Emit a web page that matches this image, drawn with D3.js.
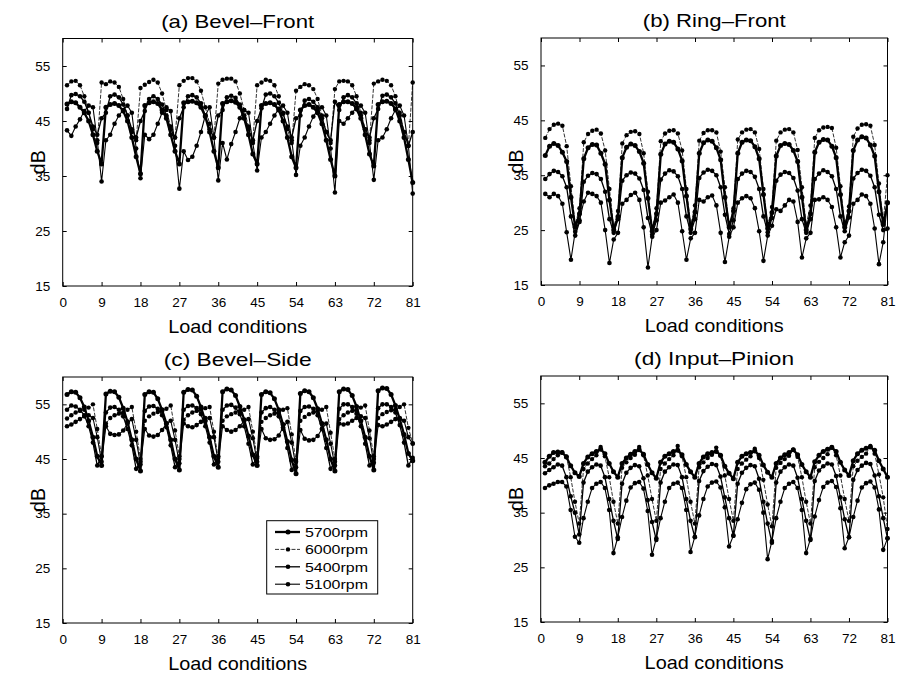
<!DOCTYPE html>
<html>
<head>
<meta charset="utf-8">
<script src="https://cdn.jsdelivr.net/npm/d3@7"></script>
<style>
  body { margin: 0; background: #fff; }
  svg { display: block; }
  text { font-family: "Liberation Sans", Arial, Helvetica, sans-serif; fill: #000; }
</style>
</head>
<body>
<svg id="fig" width="897" height="679"></svg>
<script>
// Load conditions 1..81, tick labels and series names
const loadConditions = d3.range(1, 82);
const xTicks = [0, 9, 18, 27, 36, 45, 54, 63, 72, 81];
const yTicks = [15, 25, 35, 45, 55];
const seriesNames = ["5700rpm", "6000rpm", "5400rpm", "5100rpm"];
const panelTitles = ["(a) Bevel\u2013Front", "(b) Ring\u2013Front", "(c) Bevel\u2013Side", "(d) Input\u2013Pinion"];

// (a) Bevel-Front, dB per load condition
const bevelFront5700 = [
  48.1, 48.5, 48.3, 47.5, 46.5, 45.0, 42.5, 39.5, 37.2,
  47.5, 48.0, 48.2, 47.8, 46.8, 45.0, 42.0, 38.5, 35.4,
  47.8, 48.3, 48.5, 48.2, 47.0, 45.5, 42.5, 39.5, 37.2,
  48.3, 48.5, 48.6, 48.3, 47.5, 45.8, 43.0, 39.5, 36.5,
  48.2, 48.5, 48.7, 48.4, 47.5, 45.5, 42.5, 39.0, 37.2,
  47.8, 48.2, 48.3, 48.0, 47.0, 45.0, 42.0, 38.5, 36.5,
  47.0, 47.8, 48.0, 47.5, 46.5, 44.5, 41.5, 38.0, 35.0,
  48.0, 48.5, 48.5, 48.2, 47.2, 45.5, 42.5, 39.0, 36.8,
  48.0, 48.5, 48.6, 48.2, 47.2, 45.0, 42.0, 38.0, 33.8
];
const bevelFront6000 = [
  51.5, 52.2, 52.3, 51.5, 49.5, 46.5, 43.5, 41.0, 52.0,
  51.7, 52.2, 52.0, 51.2, 49.0, 46.0, 43.0, 41.5, 51.0,
  51.6, 52.1, 52.5, 52.0, 50.0, 47.0, 44.0, 42.0, 51.5,
  52.3, 52.8, 52.8, 52.2, 50.5, 47.5, 44.5, 42.0, 51.8,
  52.5, 52.7, 52.7, 52.2, 50.0, 47.0, 44.0, 41.5, 51.5,
  52.0, 52.5, 52.3, 51.5, 49.5, 46.5, 43.5, 41.0, 50.5,
  51.2, 51.7, 51.5, 50.8, 49.0, 46.0, 43.0, 41.0, 50.8,
  52.2, 52.3, 52.2, 51.5, 49.5, 46.5, 43.5, 41.5, 51.8,
  52.2, 52.5, 52.3, 51.5, 49.5, 46.5, 43.0, 40.5, 52.0
];
const bevelFront5400 = [
  47.2, 49.7, 49.9, 49.5, 48.5, 46.5, 44.0, 42.5, 45.5,
  46.5, 49.5, 49.8, 49.3, 48.0, 46.0, 43.5, 42.0, 45.0,
  46.8, 49.0, 49.5, 49.0, 48.0, 46.0, 43.5, 42.0, 45.5,
  47.5, 49.5, 49.7, 49.3, 48.2, 46.0, 43.5, 42.0, 46.0,
  47.0, 49.3, 49.6, 49.2, 48.0, 46.0, 43.5, 41.5, 45.0,
  47.3, 49.8, 50.0, 49.5, 48.3, 46.3, 44.0, 42.0, 45.5,
  46.0, 48.7, 49.0, 48.5, 47.5, 45.5, 43.0, 41.5, 48.5,
  47.0, 49.3, 49.7, 49.3, 48.2, 46.0, 43.5, 42.0, 45.5,
  47.2, 49.6, 49.8, 49.3, 48.2, 46.0, 43.0, 40.5, 43.0
];
const bevelFront5100 = [
  43.3, 42.3, 44.0, 45.3, 46.8, 47.8, 47.5, 41.5, 34.0,
  41.5, 42.5, 44.5, 46.0, 47.0, 47.8, 46.5, 40.0, 34.6,
  42.5, 41.7, 42.5, 44.5, 46.5, 47.5, 46.8, 40.5, 32.7,
  39.5, 37.9, 38.5, 40.5, 43.0, 46.0, 47.5, 42.0, 34.2,
  41.0, 38.0, 40.8, 43.0, 45.5, 47.0, 46.5, 41.0, 36.0,
  42.0, 43.0, 44.5, 46.0, 47.2, 47.8, 46.5, 41.5, 35.2,
  40.5, 42.0, 44.0, 45.8, 47.0, 47.5, 46.0, 40.0, 32.0,
  45.0, 44.5, 45.5, 46.5, 47.5, 47.8, 46.5, 41.0, 34.3,
  41.5, 42.0, 43.5, 45.5, 47.0, 47.8, 46.0, 40.5, 31.8
];

// (b) Ring-Front
const ringFront5700 = [
  38.6, 40.3, 40.8, 40.4, 39.2, 37.5, 31.0, 25.5, 28.0,
  38.0, 40.0, 40.6, 40.5, 39.0, 37.0, 30.5, 25.0, 27.5,
  38.2, 40.1, 40.7, 40.4, 39.3, 37.2, 30.8, 24.8, 28.0,
  38.8, 40.7, 41.2, 41.0, 39.8, 37.6, 31.2, 25.2, 28.3,
  39.0, 40.9, 41.4, 41.2, 40.0, 37.8, 31.0, 25.5, 28.5,
  39.0, 41.0, 41.4, 41.3, 40.2, 38.0, 31.5, 25.3, 28.2,
  38.5, 40.4, 40.8, 40.6, 39.5, 37.5, 31.0, 25.0, 28.0,
  39.2, 41.0, 41.5, 41.4, 40.3, 38.2, 31.5, 25.5, 28.5,
  39.5, 41.4, 42.0, 41.8, 40.5, 38.5, 32.0, 26.0, 30.0
];
const ringFront6000 = [
  41.8, 43.4, 44.2, 44.4, 44.0, 40.3, 33.0, 26.0, 29.0,
  41.0, 42.5, 43.1, 43.3, 42.6, 39.5, 32.5, 25.5, 28.5,
  40.8, 42.3, 42.9, 43.0, 42.5, 39.0, 32.0, 25.0, 29.0,
  41.2, 42.6, 43.1, 43.2, 42.6, 39.5, 32.5, 25.8, 29.5,
  41.3, 42.7, 43.2, 43.2, 42.8, 39.3, 32.8, 25.5, 29.0,
  41.5, 42.8, 43.3, 43.4, 42.8, 39.8, 32.5, 25.8, 29.2,
  41.3, 42.8, 43.3, 43.4, 42.8, 39.6, 32.8, 26.0, 29.5,
  41.8, 43.2, 43.7, 43.8, 43.6, 40.0, 33.0, 26.0, 29.3,
  42.0, 43.5, 44.2, 44.3, 44.0, 40.5, 33.5, 26.5, 35.0
];
const ringFront5400 = [
  34.3, 35.2, 35.8, 35.6, 34.8, 32.8, 27.5, 24.0, 26.5,
  33.8, 34.9, 35.4, 35.2, 34.3, 32.0, 27.0, 24.5, 27.0,
  34.0, 35.0, 35.5, 35.3, 34.4, 32.3, 27.2, 24.2, 26.8,
  34.2, 35.3, 35.9, 35.7, 34.8, 32.5, 27.5, 24.5, 27.0,
  34.5, 35.5, 36.0, 35.8, 35.0, 32.8, 27.8, 24.3, 26.8,
  34.3, 35.3, 35.8, 35.6, 34.7, 32.5, 27.5, 24.6, 27.2,
  34.0, 35.1, 35.6, 35.4, 34.5, 32.2, 27.0, 24.5, 27.0,
  34.3, 35.3, 35.9, 35.6, 34.8, 32.5, 27.5, 24.8, 27.3,
  34.4, 35.4, 36.0, 35.8, 34.9, 32.8, 27.8, 25.0, 25.3
];
const ringFront5100 = [
  31.6, 31.0, 31.6, 31.2, 29.8, 24.6, 19.6, 24.7, 26.8,
  30.2, 31.8, 31.6, 31.2, 30.0, 25.0, 19.0, 23.3, 24.5,
  29.8, 30.5, 31.4, 31.8, 30.5, 25.5, 18.2, 23.8, 25.0,
  30.0, 30.4, 31.0, 31.5, 30.0, 24.8, 19.6, 23.5, 24.5,
  30.5, 30.2, 31.0, 31.3, 29.5, 24.5, 19.2, 23.8, 25.5,
  30.0, 30.8, 31.2, 30.8, 29.0, 24.8, 19.4, 24.0, 25.8,
  28.8, 28.5, 29.5, 30.5, 30.2, 26.5, 20.0, 23.5, 24.5,
  30.5, 30.6, 31.0, 30.5, 29.2, 25.5, 20.0, 22.8, 24.0,
  29.8, 30.5, 31.5, 31.2, 29.8, 25.3, 18.8, 22.8, 30.0
];

// (c) Bevel-Side
const bevelSide5700 = [
  56.8, 57.3, 57.2, 56.2, 54.5, 52.0, 49.0, 45.5, 43.8,
  56.9, 57.4, 57.3, 56.3, 54.3, 51.8, 48.5, 45.0, 42.8,
  56.8, 57.3, 57.2, 56.0, 54.0, 51.5, 48.5, 45.0, 43.0,
  57.2, 57.7, 57.6, 56.5, 54.5, 52.0, 49.0, 45.5, 43.5,
  57.3, 57.8, 57.6, 56.6, 54.6, 52.2, 49.2, 45.8, 43.8,
  56.8, 57.3, 57.1, 56.0, 54.0, 51.3, 48.2, 44.8, 42.3,
  57.0, 57.5, 57.3, 56.2, 54.2, 51.5, 48.5, 45.0, 42.8,
  57.3, 57.8, 57.7, 56.6, 54.6, 52.0, 49.0, 45.5, 43.0,
  57.5, 58.0, 57.9, 56.8, 54.8, 52.3, 49.5, 46.0, 44.7
];
const bevelSide6000 = [
  52.4, 53.0, 53.5, 53.8, 54.0, 54.4, 55.0, 50.5, 45.5,
  51.5, 52.5, 53.0, 53.3, 53.5, 54.0, 54.5, 50.0, 45.0,
  52.0, 52.8, 53.3, 53.6, 53.8, 54.2, 54.8, 50.2, 45.5,
  52.2, 53.0, 53.5, 53.8, 54.0, 54.3, 54.5, 50.0, 45.2,
  52.0, 52.8, 53.2, 53.5, 53.8, 54.0, 54.5, 50.0, 45.5,
  51.8, 52.5, 53.0, 53.3, 53.5, 54.0, 54.3, 49.5, 44.8,
  52.0, 52.7, 53.2, 53.5, 53.8, 54.0, 54.5, 49.8, 45.0,
  52.3, 53.0, 53.5, 53.8, 54.0, 54.4, 54.8, 50.2, 45.5,
  52.5, 53.2, 53.6, 53.9, 54.1, 54.5, 55.0, 50.7, 47.9
];
const bevelSide5400 = [
  54.0, 54.8, 54.6, 54.0, 53.0, 51.0, 48.0, 43.8, 45.5,
  53.5, 54.4, 54.5, 54.0, 52.8, 50.5, 47.5, 43.2, 44.5,
  53.8, 54.6, 54.7, 54.2, 53.0, 50.8, 47.5, 43.5, 45.0,
  54.0, 54.7, 54.8, 54.3, 53.2, 51.0, 48.0, 44.0, 45.5,
  54.0, 54.8, 54.9, 54.4, 53.2, 51.0, 47.8, 44.0, 45.2,
  53.5, 54.3, 54.5, 54.0, 52.8, 50.5, 47.0, 43.0, 44.5,
  53.8, 54.5, 54.6, 54.2, 53.0, 50.5, 47.0, 43.2, 44.5,
  54.2, 55.0, 55.0, 54.5, 53.3, 51.0, 47.8, 43.8, 45.0,
  54.3, 55.0, 55.0, 54.5, 53.5, 51.2, 48.0, 43.8, 45.2
];
const bevelSide5100 = [
  51.0, 51.3, 51.8, 52.3, 52.8, 53.0, 52.5, 49.0, 44.5,
  51.0, 49.6, 49.4, 49.5, 50.2, 51.5, 52.3, 48.5, 44.0,
  50.5, 49.3, 49.1, 49.4, 50.3, 51.5, 52.0, 48.5, 44.2,
  51.5, 51.0, 50.8, 51.2, 51.8, 52.5, 52.5, 49.0, 44.5,
  51.0, 50.3, 50.0, 50.3, 51.0, 52.0, 52.3, 48.8, 44.5,
  50.5, 48.8, 48.5, 48.6, 49.3, 50.8, 51.8, 48.0, 43.5,
  50.3, 48.7, 48.4, 48.5, 49.2, 50.5, 51.5, 47.8, 43.8,
  51.5, 51.3, 51.5, 52.0, 52.5, 52.8, 52.5, 48.8, 44.3,
  51.2, 51.0, 51.3, 51.8, 52.3, 52.5, 52.0, 49.0, 47.8
];

// (d) Input-Pinion
const inputPinion5700 = [
  44.2, 45.3, 46.0, 46.1, 46.0, 45.2, 43.6, 42.3, 41.6,
  44.0, 45.2, 45.8, 46.2, 46.6, 45.8, 44.0, 42.5, 41.5,
  44.0, 45.0, 45.7, 46.2, 46.5, 45.7, 43.8, 42.3, 41.3,
  44.2, 45.3, 45.8, 46.2, 46.4, 45.6, 43.8, 42.5, 41.5,
  44.0, 45.2, 45.8, 46.0, 46.2, 45.5, 43.5, 42.2, 41.2,
  44.2, 45.3, 45.8, 46.0, 46.3, 45.5, 43.7, 42.4, 41.5,
  44.0, 45.0, 45.6, 46.0, 46.5, 45.6, 43.8, 42.5, 41.5,
  44.3, 45.5, 46.2, 46.6, 46.9, 46.2, 44.2, 42.8, 41.8,
  44.5, 45.8, 46.4, 46.8, 47.0, 46.4, 44.5, 43.0, 41.5
];
const inputPinion6000 = [
  43.5, 44.0, 44.8, 45.5, 46.0, 45.3, 41.5, 37.0, 33.0,
  43.0, 44.0, 44.8, 45.5, 47.0, 45.3, 41.5, 37.0, 33.0,
  43.2, 44.2, 45.0, 45.6, 47.0, 45.5, 41.8, 37.5, 33.5,
  43.0, 44.0, 44.8, 45.5, 47.2, 45.3, 41.5, 37.0, 33.0,
  43.3, 44.2, 45.0, 45.6, 46.9, 45.4, 41.8, 37.5, 33.5,
  43.0, 44.0, 44.7, 45.3, 46.7, 45.0, 41.0, 36.5, 32.5,
  43.2, 44.1, 44.8, 45.4, 46.5, 45.2, 41.5, 37.0, 33.0,
  43.3, 44.3, 45.0, 45.7, 47.0, 45.5, 41.8, 37.5, 33.5,
  43.5, 44.5, 45.2, 45.8, 47.2, 45.8, 42.0, 37.8, 32.0
];
const inputPinion5400 = [
  42.2, 42.8, 43.3, 43.8, 43.6, 41.5, 38.0, 35.0, 31.0,
  40.5, 42.5, 43.3, 43.8, 43.6, 41.5, 37.5, 33.5, 30.2,
  40.3, 42.3, 43.2, 43.7, 43.5, 41.3, 37.3, 33.3, 30.0,
  40.5, 42.5, 43.3, 43.8, 43.7, 41.5, 37.5, 33.5, 30.5,
  40.8, 42.6, 43.4, 43.9, 43.7, 41.6, 37.8, 34.0, 30.8,
  40.3, 42.3, 43.2, 43.7, 43.5, 41.2, 37.0, 33.0, 29.5,
  40.5, 42.5, 43.3, 43.8, 43.6, 41.4, 37.5, 33.5, 30.0,
  40.8, 42.7, 43.5, 44.0, 43.8, 41.7, 37.8, 33.8, 30.5,
  41.0, 42.8, 43.6, 44.1, 43.9, 41.8, 38.0, 34.0, 30.3
];
const inputPinion5100 = [
  39.5, 40.0, 40.3, 40.6, 40.6, 39.8, 35.5, 30.6, 29.5,
  34.0, 37.0, 39.5, 40.3, 40.6, 39.5, 35.5, 27.6, 30.5,
  34.2, 37.2, 39.6, 40.4, 40.6, 39.4, 35.3, 27.3, 30.3,
  34.0, 37.0, 39.5, 40.3, 40.5, 39.5, 35.5, 27.8, 30.6,
  34.5, 37.5, 39.8, 40.5, 40.7, 39.6, 36.0, 28.8, 30.8,
  33.8, 36.8, 39.3, 40.2, 40.5, 39.2, 35.0, 26.5, 29.8,
  34.0, 37.0, 39.5, 40.3, 40.6, 39.5, 35.5, 27.6, 30.2,
  34.3, 37.3, 39.7, 40.5, 40.8, 39.7, 35.8, 28.5, 30.5,
  34.2, 37.2, 39.6, 40.4, 40.7, 39.6, 35.6, 28.2, 30.3
];

// One entry per panel; the series order matches seriesNames
const panelSeries = [
  [bevelFront5700, bevelFront6000, bevelFront5400, bevelFront5100],
  [ringFront5700, ringFront6000, ringFront5400, ringFront5100],
  [bevelSide5700, bevelSide6000, bevelSide5400, bevelSide5100],
  [inputPinion5700, inputPinion6000, inputPinion5400, inputPinion5100]
];

// Plot frames on the page
const frames = [
  { x0: 62.7, x1: 412.7, y0: 38.5, y1: 286 },
  { x0: 541, x1: 887.5, y0: 38, y1: 285 },
  { x0: 62.7, x1: 412.7, y0: 377, y1: 623 },
  { x0: 540.7, x1: 887.5, y0: 376, y1: 622 }
];
const titleWidths = [153, 143, 148, 160];

// Line style per rpm
const lineStyle = {
  "5700rpm": { width: 2.3, dash: null, r: 2.5 },
  "6000rpm": { width: 0.8, dash: "4,1.5", r: 2.2 },
  "5400rpm": { width: 1.3, dash: null, r: 2.3 },
  "5100rpm": { width: 1.1, dash: null, r: 2.3 }
};
const drawOrder = [3, 2, 1, 0];

const svg = d3.select("#fig");

panelSeries.forEach((seriesSet, p) => {
  const f = frames[p];
  const x = d3.scaleLinear().domain([0, 81]).range([f.x0, f.x1]);
  const y = d3.scaleLinear().domain([15, 60]).range([f.y1, f.y0]);
  const g = svg.append("g");

  // axes: inward ticks on all four sides, labels on bottom and left
  const bottom = g.append("g").attr("transform", `translate(0,${f.y1})`)
    .call(d3.axisBottom(x).tickValues(xTicks).tickSizeInner(-4).tickSizeOuter(0).tickPadding(11));
  const left = g.append("g").attr("transform", `translate(${f.x0},0)`)
    .call(d3.axisLeft(y).tickValues(yTicks).tickSizeInner(-4).tickSizeOuter(0).tickPadding(12.5));
  const top = g.append("g").attr("transform", `translate(0,${f.y0})`)
    .call(d3.axisTop(x).tickValues(xTicks).tickSizeInner(-4).tickSizeOuter(0).tickFormat(""));
  const right = g.append("g").attr("transform", `translate(${f.x1},0)`)
    .call(d3.axisRight(y).tickValues(yTicks).tickSizeInner(-4).tickSizeOuter(0).tickFormat(""));
  [bottom, left, top, right].forEach(a => {
    a.select(".domain").remove();
    a.selectAll("line").attr("stroke", "#000").attr("stroke-width", 1);
    a.selectAll("text").attr("font-size", 13.5)
      .style("font-family", '"Liberation Sans", Arial, Helvetica, sans-serif').attr("fill", "#000");
  });

  // frame
  g.append("rect").attr("x", f.x0).attr("y", f.y0)
    .attr("width", f.x1 - f.x0).attr("height", f.y1 - f.y0)
    .attr("fill", "none").attr("stroke", "#000").attr("stroke-width", 1);

  // series
  const line = d3.line().x((d, i) => x(loadConditions[i])).y(d => y(d));
  drawOrder.forEach(si => {
    const vals = seriesSet[si];
    const st = lineStyle[seriesNames[si]];
    g.append("path").datum(vals).attr("d", line)
      .attr("fill", "none").attr("stroke", "#000")
      .attr("stroke-width", st.width).attr("stroke-linejoin", "round")
      .attr("stroke-dasharray", st.dash);
    g.append("g").selectAll("circle").data(vals).join("circle")
      .attr("cx", (d, i) => x(loadConditions[i])).attr("cy", d => y(d))
      .attr("r", st.r).attr("fill", "#000");
  });

  // titles and axis labels
  const cx = (f.x0 + f.x1) / 2;
  g.append("text").attr("x", cx).attr("y", f.y0 - 11)
    .attr("text-anchor", "middle").attr("font-size", 19)
    .attr("textLength", titleWidths[p]).attr("lengthAdjust", "spacingAndGlyphs")
    .text(panelTitles[p]);
  g.append("text").attr("x", cx).attr("y", f.y1 + 47)
    .attr("text-anchor", "middle").attr("font-size", 18.5)
    .attr("textLength", 139).attr("lengthAdjust", "spacingAndGlyphs")
    .text("Load conditions");
  g.append("text")
    .attr("transform", `translate(${f.x0 - 18},${(f.y0 + f.y1) / 2}) rotate(-90)`)
    .attr("text-anchor", "middle").attr("font-size", 19.5)
    .text("dB");

  // legend in panel (c)
  if (p === 2) {
    const lg = g.append("g");
    lg.append("rect").attr("x", 266.7).attr("y", 520.7).attr("width", 111).attr("height", 73.3)
      .attr("fill", "#fff").attr("stroke", "#000").attr("stroke-width", 1);
    seriesNames.forEach((name, i) => {
      const yy = 532 + i * 17.4;
      const st = lineStyle[name];
      lg.append("line").attr("x1", 275).attr("x2", 300).attr("y1", yy).attr("y2", yy)
        .attr("stroke", "#000").attr("stroke-width", st.width).attr("stroke-dasharray", st.dash);
      lg.append("circle").attr("cx", 288).attr("cy", yy).attr("r", st.r).attr("fill", "#000");
      lg.append("text").attr("x", 305).attr("y", yy + 5).attr("font-size", 13.5)
        .attr("textLength", 63).attr("lengthAdjust", "spacingAndGlyphs")
        .text(name);
    });
  }
});
</script>
</body>
</html>
